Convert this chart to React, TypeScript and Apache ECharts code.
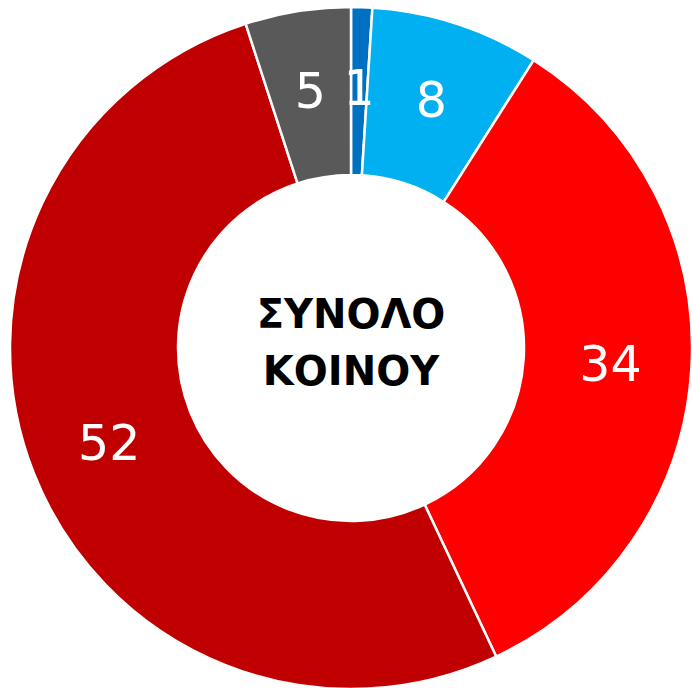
import React, { useEffect, useRef } from "react";
import * as echarts from "echarts";

const categories = ["A", "B", "C", "D", "E"];
const values = [1, 8, 34, 52, 5];
const colors = ["#0070C0", "#00B0F0", "#FF0000", "#C00000", "#595959"];
const centerTitle = "ΣΥΝΟΛΟ\nΚΟΙΝΟΥ";

export default function App() {
  const ref = useRef<HTMLDivElement>(null);
  useEffect(() => {
    if (!ref.current) return;
    const chart = echarts.init(ref.current, null, { renderer: "svg" });
    chart.setOption({
      animation: false,
      backgroundColor: "#ffffff",
      graphic: [
        {
          type: "text",
          x: 351,
          y: 342,
          style: {
            text: centerTitle,
            fontFamily: "DejaVu Sans, sans-serif",
            fontWeight: "bold",
            fontSize: 40,
            lineHeight: 57,
            fill: "#000000",
            align: "center",
            verticalAlign: "middle",
          },
        },
      ],
      series: [
        {
          type: "pie",
          center: [351, 348],
          radius: [173, 341],
          startAngle: 90,
          clockwise: true,
          avoidLabelOverlap: false,
          itemStyle: { borderColor: "#ffffff", borderWidth: 2.5 },
          label: {
            show: true,
            position: "inside",
            formatter: "{c}",
            color: "#ffffff",
            fontSize: 49,
            fontFamily: "DejaVu Sans, sans-serif",
          },
          labelLine: { show: false },
          emphasis: { disabled: true },
          data: categories.map((c, i) => ({
            name: c,
            value: values[i],
            itemStyle: { color: colors[i] },
          })),
        },
      ],
    });
    return () => chart.dispose();
  }, []);
  return (
    <div
      ref={ref}
      style={{ position: "fixed", left: 0, top: 0, width: 692, height: 688 }}
    />
  );
}
